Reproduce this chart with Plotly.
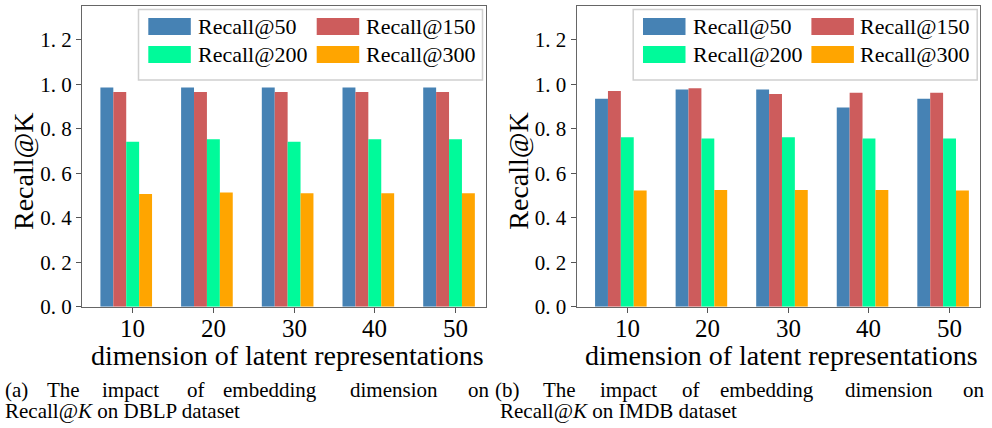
import plotly.graph_objects as go

W, H = 992, 428

dims = ["10", "20", "30", "40", "50"]
series_names = ["Recall@50", "Recall@150", "Recall@200", "Recall@300"]
colors = ["#4682B4", "#CD5C5C", "#00FA9A", "#FFA500"]

dblp_r50 = [0.985, 0.985, 0.985, 0.985, 0.985]
dblp_r150 = [0.965, 0.965, 0.965, 0.965, 0.965]
dblp_r200 = [0.742, 0.753, 0.742, 0.753, 0.753]
dblp_r300 = [0.507, 0.513, 0.510, 0.510, 0.510]

imdb_r50 = [0.935, 0.977, 0.977, 0.896, 0.935]
imdb_r150 = [0.970, 0.982, 0.956, 0.962, 0.962]
imdb_r200 = [0.762, 0.756, 0.762, 0.756, 0.756]
imdb_r300 = [0.522, 0.525, 0.525, 0.525, 0.522]

ytick_vals = [0.0, 0.2, 0.4, 0.6, 0.8, 1.0, 1.2]
ytick_text = ["0.\u00a00", "0.\u00a02", "0.\u00a04", "0.\u00a06", "0.\u00a08", "1.\u00a00", "1.\u00a02"]

x_title = "dimension of latent representations"
y_title = "Recall@K"
caption_a = ["(a)", "The", "impact", "of", "embedding", "dimension", "on"]
caption_b = ["(b)", "The", "impact", "of", "embedding", "dimension", "on"]
caption_a2 = "Recall@<i>K</i> on DBLP dataset"
caption_b2 = "Recall@<i>K</i> on IMDB dataset"

FONT = "Liberation Serif"
BAR_W = 0.16
offsets = [-2.5 * BAR_W, -1.5 * BAR_W, -0.5 * BAR_W, 0.5 * BAR_W]


def px(x):
    return x / W


def py(y):
    return 1 - y / H


fig = go.Figure()

panels = [
    ("x", "y", [dblp_r50, dblp_r150, dblp_r200, dblp_r300]),
    ("x2", "y2", [imdb_r50, imdb_r150, imdb_r200, imdb_r300]),
]
for xa, ya, vals in panels:
    for name, col, off, v in zip(series_names, colors, offsets, vals):
        fig.add_trace(go.Bar(
            x=dims, y=v, name=name, xaxis=xa, yaxis=ya,
            width=BAR_W, offset=off, marker=dict(color=col, line=dict(width=0)),
            showlegend=False,
        ))

DX = 494.7
ax_left = [82, 82 + DX]
ax_right = [486, 980]
y_top, y_bot = 6, 306.7

axis_common = dict(
    showgrid=False, zeroline=False, showline=True, linecolor="#666666",
    linewidth=1.3, mirror=True, ticks="outside", ticklen=5, tickwidth=1.2,
    tickcolor="#555555",
)

layout = dict(
    width=W, height=H,
    margin=dict(l=0, r=0, t=0, b=0, pad=0, autoexpand=False),
    paper_bgcolor="white", plot_bgcolor="white",
    barmode="overlay", showlegend=False,
    font=dict(family=FONT, color="black"),
)
for i, (xa, ya) in enumerate([("xaxis", "yaxis"), ("xaxis2", "yaxis2")]):
    layout[xa] = dict(
        axis_common, domain=[px(ax_left[i]), px(ax_right[i])],
        type="category", range=[-0.628, 4.378], showticklabels=False,
        anchor="y" if i == 0 else "y2",
    )
    layout[ya] = dict(
        axis_common, domain=[py(y_bot), py(y_top)], range=[0, 1.352],
        tickvals=ytick_vals, ticktext=ytick_text,
        tickfont=dict(family=FONT, size=21, color="black"),
        anchor="x" if i == 0 else "x2",
    )
fig.update_layout(**layout)

annotations = []
shapes = []
for i in range(2):
    dx = DX * i
    xref = "x" if i == 0 else "x2"
    for j, d in enumerate(dims):
        annotations.append(dict(
            text=d, x=j, y=py(328), xref=xref, yref="paper",
            xanchor="center", yanchor="middle", showarrow=False,
            font=dict(family=FONT, size=25, color="black"),
        ))
    annotations.append(dict(
        text=x_title, x=px(287 + dx), y=py(355), xref="paper", yref="paper",
        xanchor="center", yanchor="middle", showarrow=False,
        font=dict(family=FONT, size=28, color="black"),
    ))
    annotations.append(dict(
        text=y_title, x=px(23 + dx), y=py(171), xref="paper", yref="paper",
        xanchor="center", yanchor="middle", showarrow=False, textangle=-90,
        font=dict(family=FONT, size=28, color="black"),
    ))
    shapes.append(dict(
        type="rect", xref="paper", yref="paper",
        x0=px(138.5 + dx), x1=px(482.5 + dx), y0=py(80), y1=py(9.5),
        line=dict(color="#d0d0d0", width=1.5), fillcolor="rgba(255,255,255,0.85)",
    ))
    sw_x = [148.3, 316.7, 148.3, 316.7]
    sw_y = [(18, 35), (18, 35), (46, 63), (46, 63)]
    tx = [196, 363.5, 196, 363.5]
    ty = [26.5, 26.5, 55, 55]
    for k in range(4):
        shapes.append(dict(
            type="rect", xref="paper", yref="paper",
            x0=px(sw_x[k] + dx), x1=px(sw_x[k] + 42.5 + dx),
            y0=py(sw_y[k][1]), y1=py(sw_y[k][0]),
            line=dict(width=0), fillcolor=colors[k],
        ))
        annotations.append(dict(
            text=series_names[k], x=px(tx[k] + dx), y=py(ty[k]),
            xref="paper", yref="paper", xanchor="left", yanchor="middle",
            showarrow=False, font=dict(family=FONT, size=22, color="black"),
        ))

word_x_a = [3, 45, 100, 185, 221, 348, 466]
word_x_b = [493, 541, 598, 680, 718, 843, 961]
for words, xs in [(caption_a, word_x_a), (caption_b, word_x_b)]:
    for wtxt, wx in zip(words, xs):
        annotations.append(dict(
            text=wtxt, x=px(wx), y=py(390), xref="paper", yref="paper",
            xanchor="left", yanchor="middle", showarrow=False,
            font=dict(family=FONT, size=21, color="black"),
        ))
for txt, xx in [(caption_a2, 3), (caption_b2, 498)]:
    annotations.append(dict(
        text=txt, x=px(xx), y=py(411), xref="paper", yref="paper",
        xanchor="left", yanchor="middle", showarrow=False,
        font=dict(family=FONT, size=21, color="black"),
    ))

fig.update_layout(annotations=annotations, shapes=shapes)
fig.write_html(
    "out.html",
    config={"displayModeBar": False},
    post_script="document.body.style.margin='0';document.body.style.overflow='hidden';",
)
